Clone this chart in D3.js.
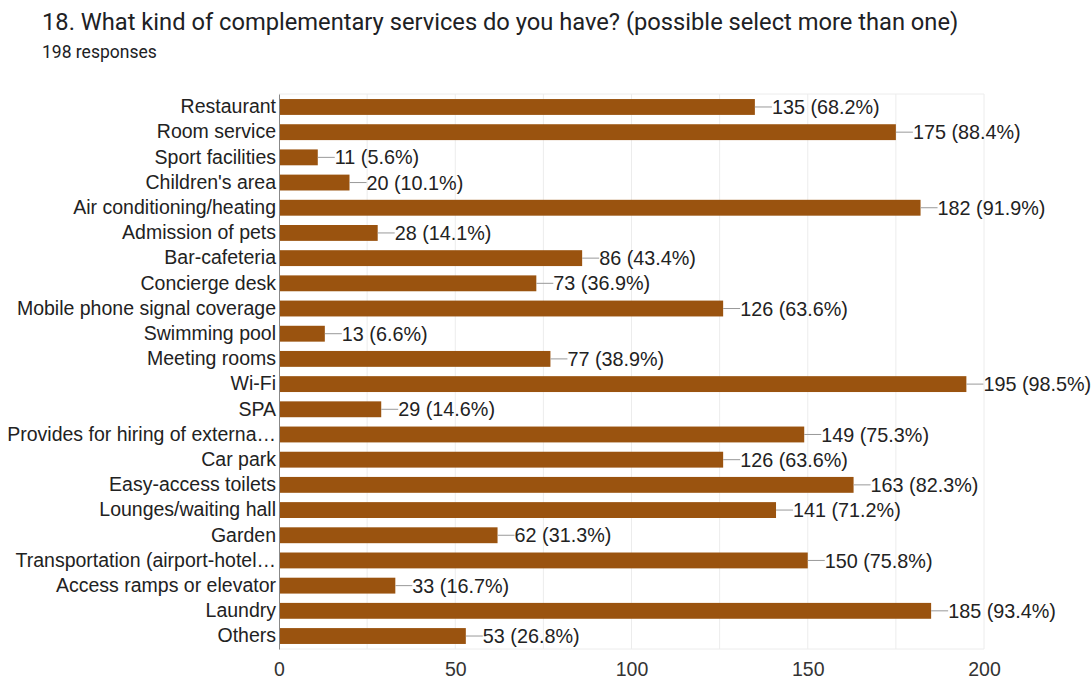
<!DOCTYPE html>
<html>
<head>
<meta charset="utf-8">
<script src="https://cdn.jsdelivr.net/npm/d3@7"></script>
<style>
  body { margin: 0; background: #fff; font-family: Roboto, "Noto Sans", sans-serif; }
</style>
</head>
<body>
<div id="myChart"></div>
<script>
// Data
var categories = ["Restaurant", "Room service", "Sport facilities", "Children's area",
	"Air conditioning/heating", "Admission of pets", "Bar-cafeteria", "Concierge desk",
	"Mobile phone signal coverage", "Swimming pool", "Meeting rooms", "Wi-Fi", "SPA",
	"Provides for hiring of externa\u2026", "Car park", "Easy-access toilets",
	"Lounges/waiting hall", "Garden", "Transportation (airport-hotel\u2026",
	"Access ramps or elevator", "Laundry", "Others"];
var counts = [135, 175, 11, 20, 182, 28, 86, 73, 126, 13, 77, 195, 29, 149, 126, 163, 141, 62, 150, 33, 185, 53];
var percents = ["68.2%", "88.4%", "5.6%", "10.1%", "91.9%", "14.1%", "43.4%", "36.9%", "63.6%", "6.6%",
	"38.9%", "98.5%", "14.6%", "75.3%", "63.6%", "82.3%", "71.2%", "31.3%", "75.8%", "16.7%", "93.4%", "26.8%"];
var xTicks = [0, 50, 100, 150, 200];
var gridTicks = [25, 50, 75, 100, 125, 150, 175, 200];

var width = 1092;
var height = 681;
var labelFont = "'Liberation Sans', Arial, sans-serif";

var svg = d3.select("#myChart")
	.append("svg")
	.attr("width", width)
	.attr("height", height);

// Title and subtitle
svg.append("text")
	.attr("x", 42).attr("y", 30)
	.style("font-size", "23.7px")
	.style("fill", "#202124")
	.text("18. What kind of complementary services do you have? (possible select more than one)");

svg.append("text")
	.attr("x", 42).attr("y", 58)
	.style("font-size", "17.5px")
	.style("fill", "#202124")
	.text("198 responses");

// Plot area
var padding = {top: 94, left: 279, right: 108, bottom: 32};
var chartArea = {
	width: width - padding.left - padding.right,
	height: height - padding.top - padding.bottom
};

var xScale = d3.scaleLinear()
	.domain([0, 200])
	.range([0, chartArea.width]);

var yScale = d3.scaleBand()
	.domain(categories)
	.range([0, chartArea.height])
	.paddingInner(0.37)
	.paddingOuter(0.2);

var g = svg.append("g")
	.attr("transform", "translate(" + padding.left + "," + padding.top + ")");

// light gridlines
g.selectAll(".grid")
	.data(gridTicks)
	.enter().append("line")
	.attr("class", "grid")
	.attr("x1", function(d) { return xScale(d); })
	.attr("x2", function(d) { return xScale(d); })
	.attr("y1", 0)
	.attr("y2", chartArea.height)
	.style("stroke", "#ececec")
	.style("stroke-width", 1);

g.append("line")
	.attr("x1", 0).attr("x2", chartArea.width)
	.attr("y1", 0).attr("y2", 0)
	.style("stroke", "#ececec");
g.append("line")
	.attr("x1", 0).attr("x2", chartArea.width)
	.attr("y1", chartArea.height).attr("y2", chartArea.height)
	.style("stroke", "#ececec");

// bars
g.selectAll(".bar")
	.data(counts)
	.enter().append("rect")
	.attr("class", "bar")
	.attr("x", 0)
	.attr("y", function(d, i) { return yScale(categories[i]); })
	.attr("width", function(d) { return xScale(d); })
	.attr("height", yScale.bandwidth())
	.style("fill", "#9a530f");

// connector lines and value labels
g.selectAll(".conn")
	.data(counts)
	.enter().append("line")
	.attr("class", "conn")
	.attr("x1", function(d) { return xScale(d); })
	.attr("x2", function(d) { return xScale(d) + 17; })
	.attr("y1", function(d, i) { return yScale(categories[i]) + yScale.bandwidth() / 2; })
	.attr("y2", function(d, i) { return yScale(categories[i]) + yScale.bandwidth() / 2; })
	.style("stroke", "#999")
	.style("stroke-width", 1);

g.selectAll(".val")
	.data(counts)
	.enter().append("text")
	.attr("class", "val")
	.attr("x", function(d) { return xScale(d) + 17; })
	.attr("y", function(d, i) { return yScale(categories[i]) + yScale.bandwidth() / 2; })
	.attr("dy", "0.36em")
	.style("font-size", "19.8px")
	.style("font-family", labelFont)
	.style("fill", "#222")
	.text(function(d, i) { return d + " (" + percents[i] + ")"; });

// y axis labels
var yAxis = g.append("g")
	.call(d3.axisLeft(yScale).tickSize(0).tickPadding(3));
yAxis.select(".domain").style("stroke", "#888");
yAxis.selectAll("text")
	.style("font-size", "19.5px")
	.style("font-family", labelFont)
	.style("fill", "#222");

// x axis
var xAxis = g.append("g")
	.attr("transform", "translate(0," + chartArea.height + ")")
	.call(d3.axisBottom(xScale).tickValues(xTicks).tickSize(0).tickPadding(13));
xAxis.select(".domain").remove();
xAxis.selectAll("text")
	.style("font-size", "19.5px")
	.style("font-family", labelFont)
	.style("fill", "#333");
</script>
</body>
</html>
